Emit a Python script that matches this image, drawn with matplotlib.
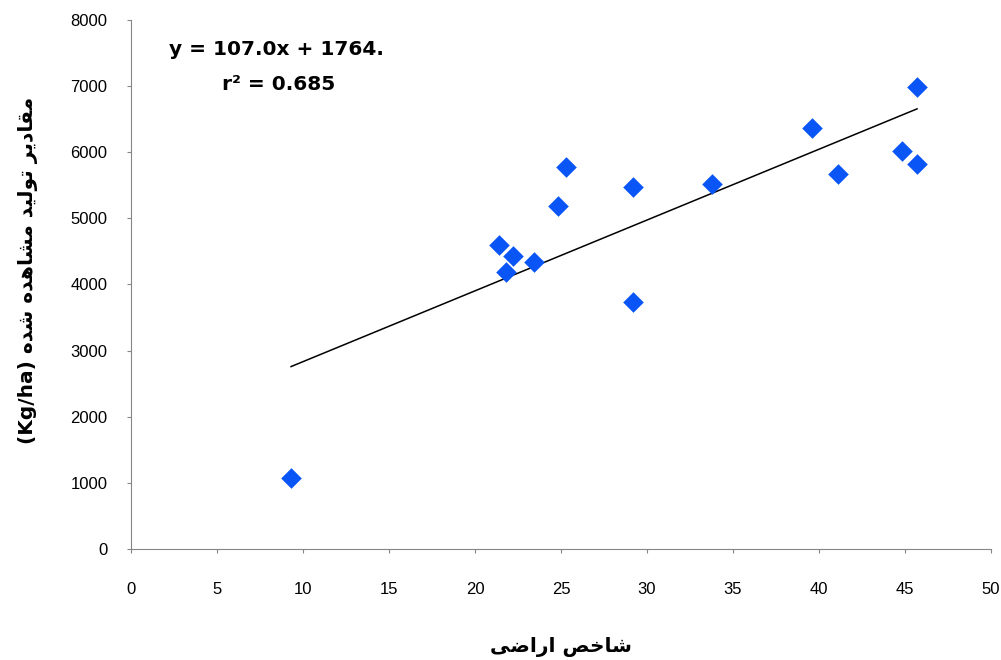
import matplotlib
matplotlib.use("Agg")
from matplotlib import pyplot as plt
import numpy as np

# land index vs observed yield
land_index = [9.3, 21.4, 21.8, 22.2, 23.4, 24.8, 25.3, 29.2, 29.2, 33.8, 39.6, 41.1, 44.8, 45.7, 45.7]
yield_obs = [1070, 4600, 4190, 4430, 4340, 5190, 5780, 5480, 3740, 5520, 6370, 5670, 6020, 5820, 6980]

slope = 107.0
intercept = 1764
r2 = 0.685

x_ticks = [0, 5, 10, 15, 20, 25, 30, 35, 40, 45, 50]
y_ticks = [0, 1000, 2000, 3000, 4000, 5000, 6000, 7000, 8000]

x_title = "شاخص اراضی"
y_title = "مقادیر تولید مشاهده شده"


# crude arabic shaping, matplotlib has no bidi/joining support
forms = {
    'ا': ('\uFE8D', '\uFE8E', None, None),
    'ت': ('\uFE95', '\uFE96', '\uFE97', '\uFE98'),
    'خ': ('\uFEA5', '\uFEA6', '\uFEA7', '\uFEA8'),
    'د': ('\uFEA9', '\uFEAA', None, None),
    'ر': ('\uFEAD', '\uFEAE', None, None),
    'ش': ('\uFEB5', '\uFEB6', '\uFEB7', '\uFEB8'),
    'ص': ('\uFEB9', '\uFEBA', '\uFEBB', '\uFEBC'),
    'ض': ('\uFEBD', '\uFEBE', '\uFEBF', '\uFEC0'),
    'ق': ('\uFED5', '\uFED6', '\uFED7', '\uFED8'),
    'ل': ('\uFEDD', '\uFEDE', '\uFEDF', '\uFEE0'),
    'م': ('\uFEE1', '\uFEE2', '\uFEE3', '\uFEE4'),
    'ه': ('\uFEE9', '\uFEEA', '\uFEEB', '\uFEEC'),
    'و': ('\uFEED', '\uFEEE', None, None),
    'ی': ('\uFEEF', '\uFEF0', '\uFEF3', '\uFEF4'),
}


def shape(text):
    out = []
    for i, c in enumerate(text):
        if c not in forms:
            out.append(c)
            continue
        prev = text[i - 1] if i > 0 else ''
        nxt = text[i + 1] if i < len(text) - 1 else ''
        joins_prev = prev in forms and forms[prev][2] is not None
        joins_next = forms[c][2] is not None and nxt in forms
        iso, fin, ini, med = forms[c]
        if joins_prev and joins_next:
            out.append(med)
        elif joins_prev:
            out.append(fin)
        elif joins_next:
            out.append(ini)
        else:
            out.append(iso)
    return ''.join(out)[::-1]


fig = plt.figure(figsize=(10.01, 6.6), dpi=100)
ax = fig.add_axes([0.131, 0.168, 0.859, 0.802])

ax.scatter(land_index, yield_obs, marker='D', s=110, color='#0a55f5', zorder=3, linewidths=0)

xs = np.array([min(land_index), max(land_index)])
ax.plot(xs, slope * xs + intercept, color='black', linewidth=1.1, zorder=2)

ax.set_xlim(0, 50)
ax.set_ylim(0, 8000)
ax.set_xticks(x_ticks)
ax.set_yticks(y_ticks)
ax.tick_params(labelsize=12, direction='out', length=3, color='#868686')
ax.tick_params(axis='x', pad=21)
ax.tick_params(axis='y', pad=14)
for lbl in ax.get_xticklabels() + ax.get_yticklabels():
    lbl.set_family('Liberation Sans')
ax.spines['top'].set_visible(False)
ax.spines['right'].set_visible(False)
ax.spines['left'].set_color('#868686')
ax.spines['bottom'].set_color('#868686')

ax.text(0.169, 0.943, f"y = {slope:.1f}x + {intercept}.", transform=ax.transAxes,
        ha='center', va='center', fontsize=14.5, fontweight='bold')
ax.text(0.171, 0.877, f"r² = {r2}", transform=ax.transAxes,
        ha='center', va='center', fontsize=14.5, fontweight='bold')

ax.set_xlabel(shape(x_title), fontsize=14.5, fontweight='bold')
ax.set_ylabel("(Kg/ha) " + shape(y_title), fontsize=14.5, fontweight='bold')
ax.xaxis.set_label_coords(0.5, -0.166)
ax.yaxis.set_label_coords(-0.108, 0.526)

fig.savefig("out.png", dpi=100)
